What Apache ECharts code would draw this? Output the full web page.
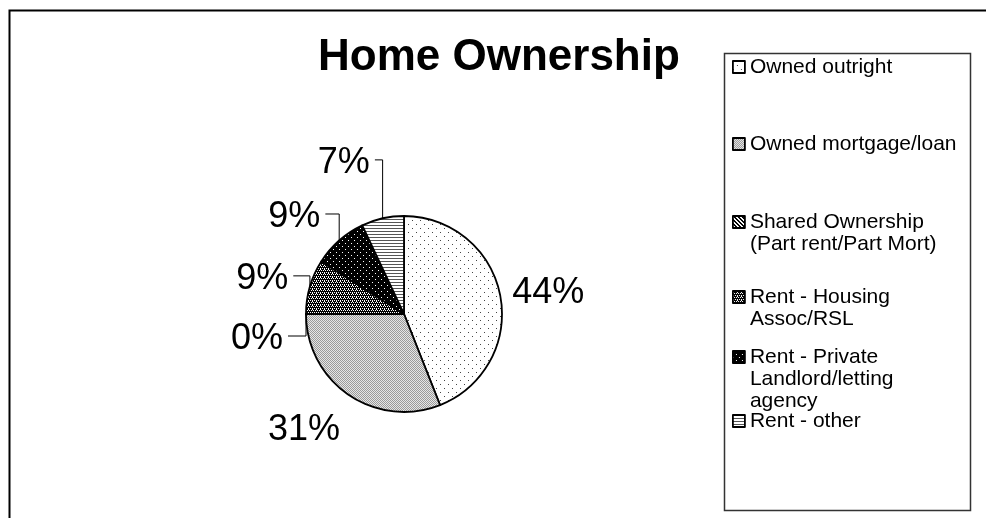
<!DOCTYPE html>
<html>
<head>
<meta charset="utf-8">
<script src="https://cdn.jsdelivr.net/npm/echarts@6/dist/echarts.min.js"></script>
<style>html,body{margin:0;padding:0;background:#fff;}#c{width:986px;height:518px;}</style>
</head>
<body>
<div id="c"></div>
<script>
// ---- data ----
const titleText = 'Home Ownership';
const categories = [
  'Owned outright',
  'Owned mortgage/loan',
  'Shared Ownership\n(Part rent/Part Mort)',
  'Rent - Housing\nAssoc/RSL',
  'Rent - Private\nLandlord/letting\nagency',
  'Rent - other'
];
const values = [44, 31, 0, 9, 9, 7];

// ---- pattern fills ----
function tile(w, h, bg, draw) {
  const c = document.createElement('canvas');
  c.width = w; c.height = h;
  const g = c.getContext('2d');
  g.fillStyle = bg; g.fillRect(0, 0, w, h);
  draw(g);
  return { image: c, repeat: 'repeat' };
}
function px(g, col, pts) { g.fillStyle = col; pts.forEach(p => g.fillRect(p[0], p[1], 1, 1)); }
const patterns = [
  tile(8, 8, '#fff', g => px(g, '#444', [[0,0],[4,4]])),
  tile(2, 2, '#e6e6e6', g => px(g, '#9a9a9a', [[0,0],[1,1]])),
  tile(4, 4, '#fff', g => px(g, '#000', [[0,0],[1,1],[2,2],[3,3],[1,0],[2,1],[3,2],[0,3]])),
  tile(4, 4, '#000', g => px(g, '#fff', [[0,0],[2,0],[1,2],[3,2],[0,1]])),
  tile(6, 6, '#000', g => px(g, '#fff', [[0,0],[3,3]])),
  tile(1, 3, '#fff', g => px(g, '#555', [[0,0]]))
];
// label line lengths (style) and small label nudges [dx, dy] (style)
const labelLines = [
  { show: false, length: 6, length2: 2 },
  { show: false, length: 39, length2: 0 },
  { show: true, length: 10, length2: 8 },
  { show: true, length: 10, length2: 8 },
  { show: true, length: 30, length2: 0 },
  { show: true, length: 63, length2: 0 }
];
const labelNudge = [[-1, -1], [18, 3], [0, 25], [1, -5], [6, -1], [6, 6]];

const chart = echarts.init(document.getElementById('c'), null, { renderer: 'canvas' });

const L = 22;
const firstLineY = [67, 144, 222, 297, 357, 421];
const legends = categories.map((name, i) => {
  const n = name.split('\n').length;
  return {
    data: [name],
    orient: 'vertical',
    left: 732,
    top: firstLineY[i] - (2 * n - 1) * L / 2,
    padding: 0,
    icon: 'rect',
    itemWidth: 12,
    itemHeight: 12,
    selectedMode: false,
    formatter: nm => '\n'.repeat(n - 1) + nm,
    itemStyle: { borderColor: '#000', borderWidth: 1.8 },
    textStyle: {
      fontFamily: 'Liberation Sans',
      fontSize: 21,
      lineHeight: L,
      color: '#000'
    }
  };
});

chart.setOption({
  backgroundColor: '#fff',
  animation: false,
  title: {
    text: titleText,
    left: 318,
    top: 36,
    padding: 0,
    textStyle: { fontFamily: 'Liberation Sans', fontSize: 44, fontWeight: 'bold', color: '#000' }
  },
  legend: legends,
  graphic: [
    { type: 'rect', left: 7, top: 8, shape: { width: 1000, height: 600 }, style: { fill: 'none', stroke: '#000', lineWidth: 2 }, silent: true },
    { type: 'rect', left: 722, top: 51, shape: { width: 246, height: 457 }, style: { fill: 'none', stroke: '#333', lineWidth: 1.5 }, silent: true, z: -1 }
  ],
  series: [{
    type: 'pie',
    center: [404, 314],
    radius: 98,
    startAngle: 90,
    clockwise: true,
    avoidLabelOverlap: false,
    stillShowZeroSum: true,
    itemStyle: { borderColor: '#000', borderWidth: 1.8 },
    label: {
      show: true,
      position: 'outside',
      formatter: p => Math.round(p.percent) + '%',
      fontFamily: 'Liberation Sans',
      fontSize: 36,
      color: '#000'
    },
    labelLine: { lineStyle: { color: '#000', width: 1 }, smooth: false },
    labelLayout: function (p) {
      const o = labelNudge[p.dataIndex];
      const r = p.labelRect;
      const isLeft = p.align === 'right';
      const x = (isLeft ? r.x + r.width : r.x) + o[0];
      const y = r.y + r.height / 2 + o[1];
      const res = { x: x, y: y };
      const pts = p.labelLinePoints;
      if (pts && pts.length) {
        const p0 = pts[0];
        res.labelLinePoints = [
          [p0[0], p0[1]],
          [p0[0], y - 3],
          [isLeft ? x + 5 : x - 5, y - 3]
        ];
      }
      return res;
    },
    emphasis: { disabled: true },
    data: categories.map((name, i) => ({
      name: name,
      value: values[i],
      itemStyle: { color: patterns[i] },
      labelLine: labelLines[i]
    }))
  }]
});
</script>
</body>
</html>
